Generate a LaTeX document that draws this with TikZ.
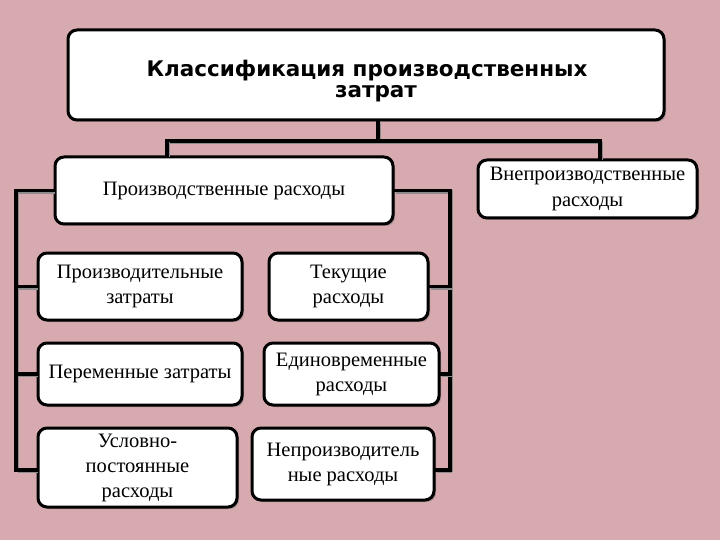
\documentclass[tikz,border=0pt]{standalone}
\usepackage{fontspec}
\setmainfont{Liberation Serif}
\newfontfamily\titlefont{DejaVu Sans}
\usetikzlibrary{shadows}
\definecolor{bg}{RGB}{214,170,174}
\begin{document}
\begin{tikzpicture}[x=1pt,y=-1pt,
  box/.style={draw=black, line width=3pt, rounded corners=9pt, fill=white, align=center,
    inner sep=0pt, font=\fontsize{20.5}{25}\selectfont,
    drop shadow={shadow xshift=2pt, shadow yshift=-2pt, fill=black!55, opacity=0.45}},
  conn/.style={line width=3.5pt, line cap=rect,
    preaction={draw=black!45, line width=3.5pt, transform canvas={shift={(1.5pt,-1.5pt)}}}}]
\fill[bg] (0,0) rectangle (720,540);
\useasboundingbox (0,0) rectangle (720,540);

\node[box, minimum width=596pt, minimum height=90pt] (top) at (366,75) {};
\node[align=center, inner sep=0pt, font=\titlefont\bfseries\fontsize{21.5}{21}\selectfont]
  (title) at (367,81) {Классификация производственных\\\hspace*{18pt}затрат};
\node[box, minimum width=338pt, minimum height=67pt] (prod) at (224,190.5) {Производственные расходы};
\node[box, minimum width=219pt, minimum height=58pt, font=\fontsize{20.5}{26}\selectfont] (vne) at (587.5,189) {Внепроизводственные\\расходы};
\node[box, minimum width=204pt, minimum height=67pt] (a1) at (140,286.5) {Производительные\\затраты};
\node[box, minimum width=159pt, minimum height=67pt] (b1) at (348.5,286.5) {Текущие\\расходы};
\node[box, minimum width=204pt, minimum height=62pt] (a2) at (140,374) {Переменные затраты};
\node[box, minimum width=175pt, minimum height=62pt] (b2) at (351.5,374) {Единовременные\\расходы};
\node[box, minimum width=199pt, minimum height=79pt] (a3) at (137.5,467.5) {Условно-\\постоянные\\расходы};
\node[box, minimum width=182pt, minimum height=72pt] (b3) at (343,464) {Непроизводитель\\ные расходы};

\coordinate (j) at (378,141);
\coordinate (hl) at (167,141);
\coordinate (hr) at (600,141);
\coordinate (lb) at (16,470);
\coordinate (rb) at (450,470);

\draw[conn] (top.south -| j) -- (j);
\draw[conn] (hl) -- (hr);
\draw[conn] (hl) -- (prod.north -| hl);
\draw[conn] (hr) -- (vne.north -| hr);
\draw[conn] (prod.west) -| (lb);
\draw[conn] (a1.west) -- (a1.west -| lb);
\draw[conn] (a2.west) -- (a2.west -| lb);
\draw[conn] (lb) -- (lb -| a3.west);
\draw[conn] (prod.east) -| (rb);
\draw[conn] (b1.east) -- (b1.east -| rb);
\draw[conn] (b2.east) -- (b2.east -| rb);
\draw[conn] (rb) -- (rb -| b3.east);
\end{tikzpicture}
\end{document}
